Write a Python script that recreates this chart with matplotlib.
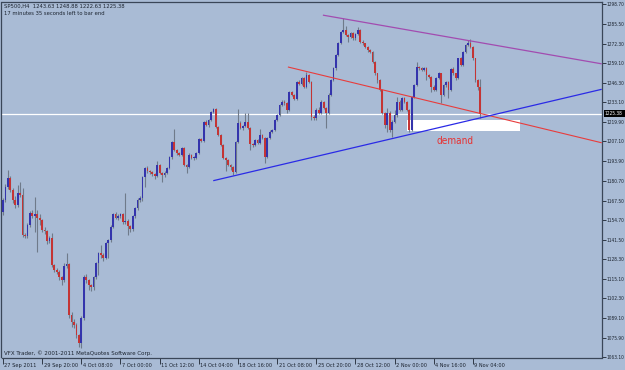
import numpy as np
import matplotlib
matplotlib.use("Agg")
import matplotlib.pyplot as plt
import matplotlib.transforms as mtransforms
from matplotlib import font_manager as fm
from matplotlib.patches import Rectangle

# ---- data (H4 candles, SP500) ----
opens = [1159.9,1167.9,1176.8,1182.6,1174.6,1167.9,1164.6,1172.6,1171.2,1144.5,
 1143.9,1151.2,1159.2,1157.2,1158.5,1155.9,1154.5,1147.9,1147.2,1140.7,
 1142.5,1124.5,1121.2,1119.8,1116.7,1114.5,1123.8,1125.2,1091.1,1086.7,
 1084.5,1077.8,1072.5,1089.1,1116.5,1114.5,1111.1,1109.8,1116.5,1125.8,
 1132.5,1131.2,1129.2,1139.2,1141.2,1150.1,1158.5,1155.9,1157.2,1158.5,
 1153.2,1153.9,1150.5,1148.5,1157.2,1162.5,1167.9,1169.2,1183.2,1189.2,
 1187.2,1186.6,1185.3,1183.9,1191.2,1185.9,1184.6,1185.9,1189.2,1196.6,
 1206.6,1201.3,1199.2,1197.9,1202.6,1191.2,1189.9,1197.9,1195.9,1196.2,
 1199.2,1208.6,1207.3,1219.9,1217.9,1221.3,1226.8,1228.4,1216.8,1211.3,
 1204.6,1195.9,1194.6,1191.2,1189.9,1186.8,1206.8,1219.5,1215.9,1217.3,
 1219.9,1215.9,1205.3,1204.6,1207.9,1205.9,1211.3,1209.3,1196.8,1209.1,
 1213.5,1214.6,1221.3,1224.6,1231.3,1233.5,1232.4,1228.0,1240.2,1238.0,
 1235.3,1246.8,1245.3,1249.3,1243.5,1251.3,1246.8,1223.5,1222.4,1228.0,
 1225.8,1233.5,1229.1,1226.0,1238.0,1248.0,1255.8,1264.7,1272.5,1280.2,
 1281.3,1278.0,1276.9,1279.1,1275.8,1278.7,1281.3,1273.5,1272.5,1270.2,
 1268.0,1266.9,1260.2,1252.4,1248.0,1241.3,1225.8,1217.9,1226.0,1214.6,
 1220.2,1224.6,1233.5,1228.0,1235.8,1233.5,1228.0,1214.6,1236.8,1244.6,
 1256.9,1255.8,1254.7,1256.0,1251.3,1250.2,1243.5,1241.3,1249.1,1252.4,
 1238.0,1244.6,1246.8,1241.3,1255.1,1252.4,1249.1,1262.5,1258.0,1266.9,
 1271.3,1272.5,1270.2,1262.5,1248.0,1243.63]
highs = [1169.2,1178.6,1187.9,1183.9,1175.9,1170.6,1177.9,1180.1,1175.9,1146.0,
 1152.5,1160.6,1161.2,1170.1,1161.2,1158.5,1155.5,1149.9,1148.0,1143.9,
 1145.9,1125.5,1122.5,1121.0,1117.5,1125.8,1132.7,1126.0,1093.1,1088.5,
 1085.5,1078.5,1090.5,1117.8,1118.5,1115.5,1112.0,1117.5,1126.8,1133.5,
 1137.9,1132.5,1140.0,1142.0,1151.0,1159.5,1159.9,1158.5,1159.5,1159.5,
 1172.4,1155.0,1151.5,1158.0,1163.5,1169.0,1170.6,1184.0,1190.0,1190.6,
 1188.0,1187.5,1186.0,1193.9,1192.0,1186.5,1187.0,1190.0,1197.5,1207.5,
 1215.3,1202.0,1200.0,1203.5,1203.5,1192.0,1199.0,1198.5,1197.5,1200.0,
 1209.5,1209.5,1220.5,1221.3,1222.0,1227.5,1229.3,1229.0,1217.5,1212.0,
 1205.5,1196.5,1195.5,1192.0,1190.5,1207.5,1228.4,1220.5,1218.0,1226.2,
 1226.0,1216.5,1206.0,1208.5,1208.5,1215.3,1212.0,1210.0,1210.0,1214.5,
 1215.5,1222.0,1225.5,1232.0,1234.5,1234.5,1233.0,1241.0,1241.0,1238.5,
 1247.5,1248.0,1250.0,1250.0,1253.3,1252.0,1247.5,1224.5,1229.0,1230.2,
 1234.5,1234.0,1230.0,1239.0,1249.0,1256.5,1265.5,1273.5,1281.0,1289.2,
 1284.0,1279.0,1280.0,1280.0,1279.5,1283.3,1282.0,1274.5,1273.0,1271.0,
 1269.0,1267.5,1261.0,1253.0,1248.5,1242.0,1226.5,1229.1,1227.0,1221.0,
 1228.0,1236.8,1234.5,1236.6,1236.5,1234.0,1228.5,1237.5,1245.5,1260.2,
 1257.5,1256.5,1257.0,1256.5,1252.0,1251.0,1244.5,1250.0,1253.5,1253.0,
 1245.5,1247.5,1247.5,1256.0,1256.7,1253.0,1263.0,1263.5,1267.5,1272.0,
 1274.7,1275.3,1271.0,1263.0,1248.6,1248.88]
lows = [1157.9,1166.6,1175.2,1173.2,1165.9,1162.5,1163.2,1169.9,1143.2,1142.5,
 1142.5,1150.0,1155.9,1146.7,1133.4,1151.2,1146.5,1145.2,1138.5,1139.2,
 1123.2,1119.8,1118.8,1114.5,1111.1,1113.5,1122.5,1089.1,1083.3,1082.5,
 1075.8,1069.8,1069.0,1088.0,1112.5,1107.8,1107.2,1107.8,1115.5,1118.0,
 1129.2,1127.5,1128.5,1129.2,1140.0,1149.0,1155.0,1154.5,1156.0,1151.9,
 1152.0,1144.5,1146.5,1147.5,1156.0,1161.5,1166.5,1167.0,1176.8,1186.0,
 1185.5,1184.0,1181.9,1183.0,1185.0,1179.9,1183.5,1185.0,1188.5,1195.5,
 1200.5,1198.0,1197.0,1197.0,1190.5,1185.9,1189.0,1195.0,1194.5,1195.0,
 1198.5,1206.5,1206.5,1217.0,1216.5,1220.5,1226.0,1216.0,1210.5,1204.0,
 1195.0,1187.4,1190.5,1188.0,1184.6,1186.0,1206.0,1215.0,1214.5,1216.5,
 1215.0,1201.3,1203.5,1204.0,1205.0,1205.0,1208.5,1192.6,1196.0,1208.5,
 1212.5,1214.0,1220.5,1224.0,1230.5,1231.5,1226.0,1227.5,1237.0,1234.6,
 1234.5,1244.5,1244.5,1242.5,1242.5,1246.0,1221.3,1221.3,1221.5,1225.0,
 1225.0,1228.5,1215.7,1225.0,1237.5,1247.5,1255.0,1264.0,1272.0,1279.5,
 1277.5,1273.5,1276.0,1275.0,1275.0,1278.0,1273.0,1271.5,1269.1,1267.0,
 1266.0,1259.5,1251.5,1246.0,1240.5,1225.0,1215.9,1213.5,1213.5,1210.1,
 1219.5,1223.5,1227.0,1227.5,1232.5,1227.0,1213.6,1213.9,1236.0,1244.0,
 1255.0,1254.0,1254.0,1248.0,1249.5,1240.2,1240.5,1240.5,1248.5,1232.4,
 1237.0,1243.5,1236.0,1240.5,1251.5,1248.0,1248.5,1257.3,1257.5,1266.0,
 1270.5,1269.5,1261.5,1247.0,1241.3,1222.63]
closes = [1167.9,1176.8,1182.6,1174.6,1167.9,1164.6,1172.6,1171.2,1144.5,1143.9,
 1151.2,1159.2,1157.2,1158.5,1155.9,1154.5,1147.9,1147.2,1140.7,1142.5,
 1124.5,1121.2,1119.8,1116.7,1114.5,1123.8,1125.2,1091.1,1086.7,1084.5,
 1077.8,1072.5,1089.1,1116.5,1114.5,1111.1,1109.8,1116.5,1125.8,1132.5,
 1131.2,1129.2,1139.2,1141.2,1150.1,1158.5,1155.9,1157.2,1158.5,1153.2,
 1153.9,1150.5,1148.5,1157.2,1162.5,1167.9,1169.2,1183.2,1189.2,1187.2,
 1186.6,1185.3,1183.9,1191.2,1185.9,1184.6,1185.9,1189.2,1196.6,1206.6,
 1201.3,1199.2,1197.9,1202.6,1191.2,1189.9,1197.9,1195.9,1196.2,1199.2,
 1208.6,1207.3,1219.9,1217.9,1221.3,1226.8,1228.4,1216.8,1211.3,1204.6,
 1195.9,1194.6,1191.2,1189.9,1186.8,1206.8,1219.5,1215.9,1217.3,1219.9,
 1215.9,1205.3,1204.6,1207.9,1205.9,1211.3,1209.3,1196.8,1209.1,1213.5,
 1214.6,1221.3,1224.6,1231.3,1233.5,1232.4,1228.0,1240.2,1238.0,1235.3,
 1246.8,1245.3,1249.3,1243.5,1251.3,1246.8,1223.5,1222.4,1228.0,1225.8,
 1233.5,1229.1,1226.0,1238.0,1248.0,1255.8,1264.7,1272.5,1280.2,1281.3,
 1278.0,1276.9,1279.1,1275.8,1278.7,1281.3,1273.5,1272.5,1270.2,1268.0,
 1266.9,1260.2,1252.4,1248.0,1241.3,1225.8,1217.9,1226.0,1214.6,1220.2,
 1224.6,1233.5,1228.0,1235.8,1233.5,1228.0,1214.6,1236.8,1244.6,1256.9,
 1255.8,1254.7,1256.0,1251.3,1250.2,1243.5,1241.3,1249.1,1252.4,1238.0,
 1244.6,1246.8,1241.3,1255.1,1252.4,1249.1,1262.5,1258.0,1266.9,1271.3,
 1272.5,1270.2,1262.5,1248.0,1243.6,1225.38]

time_labels = ["27 Sep 2011", "29 Sep 20:00", "4 Oct 08:00", "7 Oct 00:00",
               "11 Oct 12:00", "14 Oct 04:00", "18 Oct 16:00", "21 Oct 08:00",
               "25 Oct 20:00", "28 Oct 12:00", "2 Nov 00:00", "4 Nov 16:00",
               "9 Nov 04:00"]
time_label_bars = [0, 16, 32, 48, 64, 80, 96, 112, 128, 144, 160, 176, 192]

price_labels = ["1298.70", "1285.50", "1272.30", "1259.10", "1246.30", "1233.10",
                "1219.90", "1207.10", "1193.90", "1180.70", "1167.50", "1154.70",
                "1141.50", "1128.30", "1115.10", "1102.30", "1089.10", "1075.90",
                "1063.10"]

# trend lines: (bar index, price) endpoints
resistance_line = [(130.7, 1291.3), (244.6, 1258.8)]   # purple
channel_line = [(116.4, 1256.7), (244.6, 1206.1)]      # red
support_line = [(85.9, 1180.8), (244.6, 1241.8)]       # blue
demand_zone = (164.9, 211.2, 1214.1, 1221.3)           # x0, x1, low, high
bid_price = 1225.38

header1 = "SP500,H4  1243.63 1248.88 1222.63 1225.38"
header2 = "17 minutes 35 seconds left to bar end"
footer = "VFX Trader, \u00a9 2001-2011 MetaQuotes Software Corp."

# ---- styling ----
BG = "#a9bbd5"
FG = "#1c2430"
BULL = "#3434ac"
BEAR = "#c43434"
WICK = "#6f7a8a"


def pick_font():
    cands = [("Liberation Sans Narrow", "normal"), ("DejaVu Sans", "condensed"),
             ("Roboto Condensed", "normal"), ("Open Sans Condensed", "normal"),
             ("Noto Sans", "condensed"), ("Open Sans", "condensed")]
    for fam, stretch in cands:
        try:
            path = fm.findfont(fm.FontProperties(family=fam, stretch=stretch),
                               fallback_to_default=False)
        except Exception:
            continue
        p = path.lower()
        if fam.lower().split()[0] not in p.replace("-", " ").replace("_", " ") and \
                fam.lower().split()[0] not in p:
            continue
        if stretch == "normal" or "condens" in p or "narrow" in p:
            return fam, stretch
    return "DejaVu Sans", "normal"


FAM, STRETCH = pick_font()
plt.rcParams["font.family"] = [FAM, "DejaVu Sans"]

W, H = 625, 370
fig = plt.figure(figsize=(W / 100, H / 100), dpi=100, facecolor=BG)
renderer = fig.canvas.get_renderer()


def fit_size(text, target_px, cap):
    t = fig.text(0, 0, text, fontsize=10, family=[FAM, "DejaVu Sans"],
                 fontstretch=STRETCH)
    w = t.get_window_extent(renderer).width
    t.remove()
    return min(cap, 10 * target_px / w)


ysz = fit_size("1298.70", 18.0, 5.8)
xsz = fit_size("25 Oct 20:00", 33, 5.8)
hsz = fit_size(header1, 122, 6.0)
fsz = fit_size(footer, 150, 6.0)
dsz = fit_size("demand", 37, 8)

left_px, right_px, top_px, bot_px = 1.5, 601.7, 1.5, 357.5
ax = fig.add_axes([left_px / W, 1 - bot_px / H, (right_px - left_px) / W,
                   (bot_px - top_px) / H])
ax.set_facecolor(BG)

o = np.array(opens); h = np.array(highs); l = np.array(lows); c = np.array(closes)
x = np.arange(len(c))
ax.vlines(x, l, h, color=WICK, lw=0.8, zorder=2)
up = c >= o
body = np.maximum(np.abs(c - o), 0.5)
bottom = np.minimum(o, c)
ax.bar(x[up], body[up], bottom=bottom[up], width=0.72, color=BULL, lw=0, zorder=3)
ax.bar(x[~up], body[~up], bottom=bottom[~up], width=0.72, color=BEAR, lw=0, zorder=3)

ax.set_xlim(-0.6, 244.6)
ax.set_ylim(1062.8, 1300.4)

# bid line
ax.axhline(bid_price, color="white", lw=0.9, zorder=1)

# trend lines
for pts, col, lw in [(resistance_line, "#a24cb0", 0.9),
                     (channel_line, "#e83c3c", 0.8),
                     (support_line, "#2a2ae6", 0.9)]:
    ax.plot([pts[0][0], pts[1][0]], [pts[0][1], pts[1][1]], color=col, lw=lw,
            zorder=4, solid_capstyle="butt")

# demand rectangle
x0, x1, lo, hi = demand_zone
ax.fill_between([x0, x1], lo, hi, color="white", lw=0, zorder=1.5)
ax.text((x0 + x1) / 2 - 3.5, 1207.3, "demand", color="#e83030", fontsize=dsz,
        fontstretch=STRETCH, ha="center", va="center", zorder=5)

# axes styling
for s in ax.spines.values():
    s.set_color("#3a4658")
    s.set_linewidth(0.9)

ax.yaxis.tick_right()
ax.set_yticks([float(p) for p in price_labels])
ax.set_yticklabels(price_labels, fontstretch=STRETCH)
ax.tick_params(axis="y", direction="out", length=3, width=0.6, pad=0.8,
               labelsize=ysz, colors=FG)
ax.set_xticks(time_label_bars)
ax.set_xticklabels(time_labels, fontstretch=STRETCH)
ax.tick_params(axis="x", direction="out", length=4, width=0.6, pad=0.3,
               labelsize=xsz, colors=FG)
offset = mtransforms.ScaledTranslation(1.5 / 100, 0, fig.dpi_scale_trans)
for lab in ax.get_xticklabels():
    lab.set_ha("left")
    lab.set_transform(lab.get_transform() + offset)

# price tag (black box on the price scale)
trans = mtransforms.blended_transform_factory(ax.transAxes, ax.transData)
ax.add_patch(Rectangle((1.003, bid_price - 2.3), 0.037, 4.6, transform=trans,
                       fc="black", ec="none", clip_on=False, zorder=6))
ax.text(1.0045, bid_price, "1225.38", transform=trans, color="white",
        fontsize=ysz, fontstretch=STRETCH, ha="left", va="center", zorder=7,
        clip_on=False)

# header / footer texts
fig.text(4 / W, 1 - 6 / H, header1, fontsize=hsz, fontstretch=STRETCH,
         color=FG, ha="left", va="center")
fig.text(4 / W, 1 - 13.5 / H, header2, fontsize=hsz, fontstretch=STRETCH,
         color=FG, ha="left", va="center")
fig.text(4 / W, 1 - 353 / H, footer, fontsize=fsz, fontstretch=STRETCH,
         color=FG, ha="left", va="center")

fig.savefig("out.png", dpi=100, facecolor=BG)
